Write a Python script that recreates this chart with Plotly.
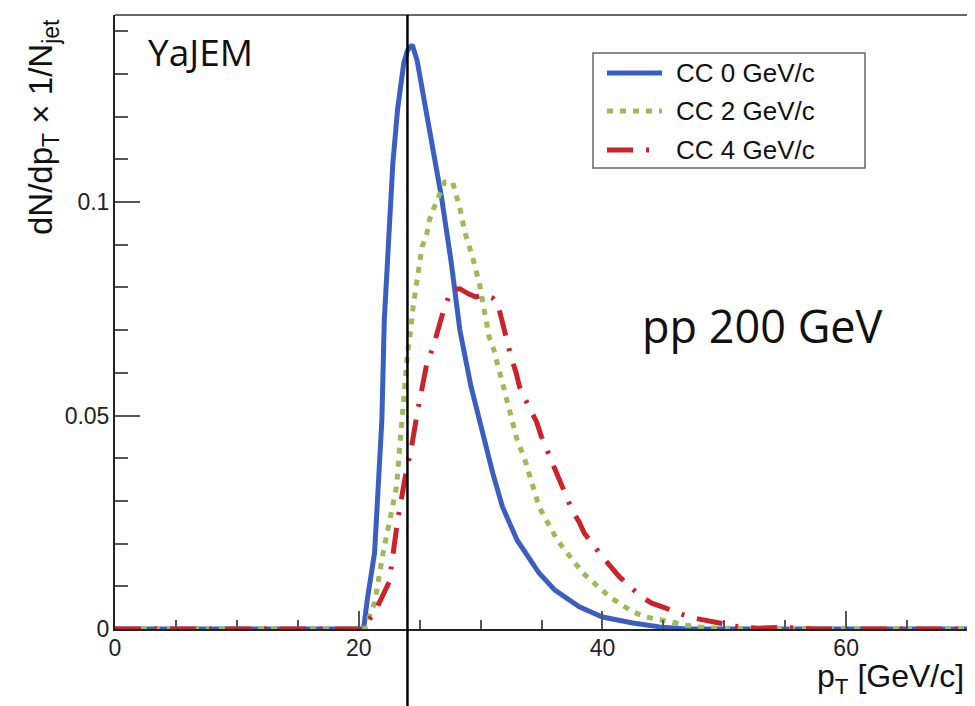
import plotly.graph_objects as go

# ---------------- data ----------------
pt_cc0 = [0, 20.0, 20.4, 20.7, 21.0, 21.3, 21.6, 21.9, 22.1, 22.5, 22.8, 23.2, 23.7, 24.0,
          24.4, 24.8, 25.3, 25.8, 26.3, 26.8, 27.6, 28.3, 29.2, 29.9, 30.5, 31.0, 31.8,
          33.0, 34.8, 36.1, 38.1, 40.0, 42.5, 44.7, 46.9, 70]
val_cc0 = [0, 0, 0.0, 0.0068, 0.012, 0.0178, 0.0333, 0.049, 0.0724, 0.093, 0.109, 0.122,
           0.1326, 0.1355, 0.1368, 0.1330, 0.125, 0.117, 0.109, 0.101, 0.0857, 0.070, 0.057,
           0.049, 0.0420, 0.0365, 0.0286, 0.0208, 0.0131, 0.0091, 0.0052, 0.0028, 0.0014,
           0.0005, 0.0, 0]

pt_cc2 = [0, 20.0, 20.5, 21.3, 22.0, 23.1, 23.6, 24.0, 24.3, 24.4, 24.7, 25.0, 25.2,
          25.6, 25.8, 26.2, 26.6, 27.05, 27.7, 28.3, 28.7, 29.3, 29.9, 30.3, 30.7, 31.1,
          31.6, 32.0, 32.5, 33.0, 33.6, 34.0, 34.8, 36.3, 38.4, 40.6, 42.5, 43.6, 44.7,
          45.7, 46.9, 48.0, 49.0, 50.0, 70]
val_cc2 = [0, 0, 0.0, 0.0061, 0.0178, 0.0333, 0.049, 0.0646, 0.0707, 0.074, 0.0801, 0.0864,
           0.0895, 0.0927, 0.0958, 0.0988, 0.1016, 0.1047, 0.1047, 0.0986, 0.093, 0.0875,
           0.081, 0.0747, 0.0684, 0.0653, 0.0600, 0.0560, 0.0497, 0.0443, 0.0400, 0.0365,
           0.0286, 0.0208, 0.0131, 0.0075, 0.0040, 0.0028, 0.0021, 0.0014, 0.0009, 0.0005,
           0.0002, 0.0, 0]

pt_cc4 = [0, 20.0, 20.5, 21.5, 22.5, 22.8, 23.2, 23.9, 24.3, 24.8, 25.6, 26.1, 26.5, 26.9,
          27.6, 28.3, 29.0, 29.6, 30.3, 31.0, 31.4, 31.7, 32.0, 32.5, 32.9, 33.2, 34.0,
          34.6, 35.0, 35.7, 36.2, 36.6, 37.5, 38.1, 38.5, 40.0, 40.7, 41.4, 43.0, 44.0,
          45.2, 47.1, 49.6, 51.2, 52.8, 54.5, 56.0, 57.5, 70]
val_cc4 = [0, 0, 0.0005, 0.005, 0.011, 0.017, 0.0255, 0.037, 0.042, 0.0506, 0.0623, 0.066,
           0.070, 0.074, 0.0795, 0.0797, 0.0785, 0.0778, 0.0783, 0.0775, 0.0763, 0.0728,
           0.0693, 0.0637, 0.0602, 0.0567, 0.0518, 0.0485, 0.0450, 0.0400, 0.0365, 0.0337,
           0.0279, 0.0250, 0.0225, 0.0169, 0.0145, 0.0122, 0.0080, 0.0061, 0.0049, 0.0028,
           0.0014, 0.0005, 0.0002, 0.0004, 0.0002, 0.0, 0]

series_names = ["CC 0 GeV/c", "CC 2 GeV/c", "CC 4 GeV/c"]
series_colors = ["#3a5fc0", "#9bbb59", "#cc2229"]
series_dash = ["solid", "6px,7px", "26px,13px,3px,13px"]

x_tickvals = [0, 20, 40, 60]
x_ticktext = ["0", "20", "40", "60"]
y_tickvals = [0, 0.05, 0.1]
y_ticktext = ["0", "0.05", "0.1"]

x_range = [0, 70]
y_range = [0, 0.1438]
cut_pt = 24  # vertical marker line

# ---------------- layout geometry ----------------
OFF = 8                      # page body margin offset
FIG_W, FIG_H = 975 - OFF, 706 - OFF
SL, ST = 115, 15             # plot area top-left in screen pixels
PW, PH = 853, 614
L, T = SL - OFF, ST - OFF


def px_x(px):
    """screen x pixel -> paper coordinate"""
    return (px - SL) / PW


def px_y(py):
    """screen y pixel -> paper coordinate"""
    return (ST + PH - py) / PH


fig = go.Figure()
xs = [pt_cc0, pt_cc2, pt_cc4]
ys = [val_cc0, val_cc2, val_cc4]
for x, y, name, col, dash in zip(xs, ys, series_names, series_colors, series_dash):
    fig.add_trace(go.Scatter(x=x, y=y, mode="lines", name=name,
                             line=dict(color=col, width=5, dash=dash),
                             showlegend=False, hoverinfo="skip"))

tickfont = dict(family="Liberation Sans, Arial, sans-serif", size=23, color="#222")

fig.update_layout(
    width=FIG_W, height=FIG_H,
    margin=dict(l=L, r=FIG_W - L - PW, t=T, b=FIG_H - T - PH),
    paper_bgcolor="white", plot_bgcolor="white",
    xaxis=dict(range=x_range, tickmode="array", tickvals=x_tickvals, ticktext=x_ticktext,
               ticks="inside", ticklen=18, tickwidth=1.5, tickcolor="#555",
               minor=dict(tickmode="linear", tick0=0, dtick=5, ticks="inside",
                          ticklen=9, tickwidth=1.5, tickcolor="#555"),
               showline=True, linecolor="#222", linewidth=2, mirror=False,
               showgrid=False, zeroline=False, tickfont=tickfont, ticklabelstandoff=-3),
    yaxis=dict(range=y_range, tickmode="array", tickvals=y_tickvals, ticktext=y_ticktext,
               ticks="inside", ticklen=25, tickwidth=1.5, tickcolor="#555",
               minor=dict(tickmode="linear", tick0=0, dtick=0.01, ticks="inside",
                          ticklen=13, tickwidth=1.5, tickcolor="#555"),
               showline=True, linecolor="#222", linewidth=2, mirror=False,
               showgrid=False, zeroline=False, tickfont=tickfont, ticklabelstandoff=-1),
)

shapes = []
# top and right frame lines
shapes.append(dict(type="line", xref="paper", yref="paper", x0=0, x1=1, y0=1, y1=1,
                   line=dict(color="#666", width=2)))
shapes.append(dict(type="line", xref="paper", yref="paper", x0=1, x1=1, y0=0, y1=1,
                   line=dict(color="#777", width=2)))
# vertical marker line at cut_pt extending below the frame
shapes.append(dict(type="line", xref="x", yref="paper", x0=cut_pt, x1=cut_pt,
                   y0=px_y(720), y1=1, line=dict(color="black", width=2.5)))
# legend box
shapes.append(dict(type="rect", xref="paper", yref="paper", x0=px_x(593), x1=px_x(865),
                   y0=px_y(168), y1=px_y(53), line=dict(color="#666", width=1.5),
                   fillcolor="white"))
legend_rows = [73, 111, 150]
annotations = []
for row, name, col, dash in zip(legend_rows, series_names, series_colors, series_dash):
    shapes.append(dict(type="line", xref="paper", yref="paper", x0=px_x(607), x1=px_x(662),
                       y0=px_y(row), y1=px_y(row), line=dict(color=col, width=5, dash=dash)))
    annotations.append(dict(xref="paper", yref="paper", x=px_x(674), y=px_y(row),
                            xanchor="left", yanchor="middle", showarrow=False, text=name,
                            font=dict(family="Liberation Sans, Arial, sans-serif",
                                      size=26, color="#111")))

annotations.append(dict(xref="paper", yref="paper", x=px_x(146), y=px_y(51),
                        xanchor="left", yanchor="middle", showarrow=False, text="YaJEM",
                        font=dict(family="Open Sans, sans-serif", size=37, color="#111")))
annotations.append(dict(xref="paper", yref="paper", x=px_x(640), y=px_y(325),
                        xanchor="left", yanchor="middle", showarrow=False, text="pp 200 GeV",
                        font=dict(family="Open Sans, sans-serif", size=45, color="#111")))
annotations.append(dict(xref="paper", yref="paper", x=px_x(43), y=px_y(17),
                        xanchor="center", yanchor="top", showarrow=False, textangle=-90,
                        text="dN/dp<sub>T</sub> × 1/N<sub>jet</sub>",
                        font=dict(family="Liberation Sans, Arial, sans-serif", size=33,
                                  color="#111")))
annotations.append(dict(xref="paper", yref="paper", x=px_x(966), y=px_y(678),
                        xanchor="right", yanchor="middle", showarrow=False,
                        text="p<sub>T</sub> [GeV/c]",
                        font=dict(family="Liberation Sans, Arial, sans-serif", size=32,
                                  color="#111")))

fig.update_layout(shapes=shapes, annotations=annotations)
fig.write_html("out.html")
